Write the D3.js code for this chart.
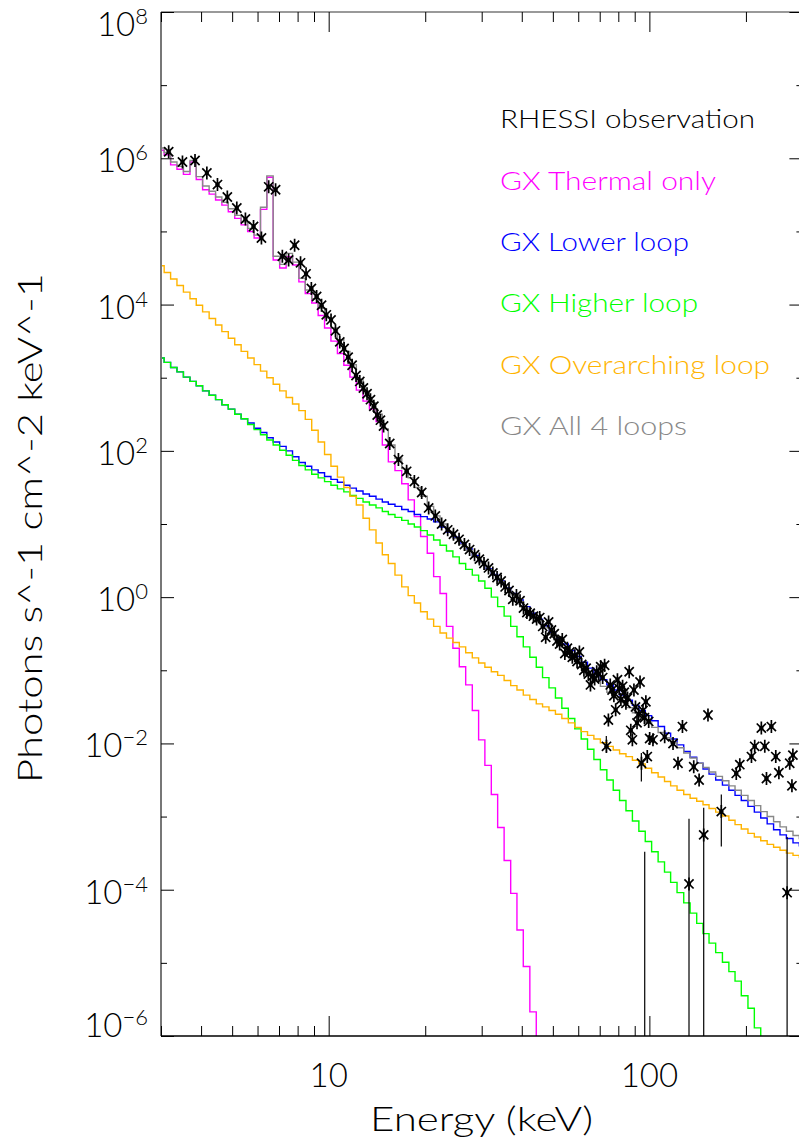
<!DOCTYPE html>
<html>
<head>
<meta charset="utf-8">
<script src="https://cdn.jsdelivr.net/npm/d3@7"></script>
<style>
  body { margin: 0; background: #fff; }
  text { font-family: "Lato", "DejaVu Sans", sans-serif; font-weight: 300; }
</style>
</head>
<body>
<svg id="chart" width="799" height="1145"></svg>
<script>
// Model energy grid (keV), logarithmic bins shared by all GX spectra
const energy = [3.00,3.14,3.29,3.44,3.61,3.78,3.95,4.14,4.34,4.54,
  4.75,4.98,5.21,5.46,5.72,5.99,6.27,6.56,6.87,7.20,
  7.54,7.89,8.26,8.65,9.06,9.49,9.93,10.4,10.9,11.4,
  11.9,12.5,13.1,13.7,14.4,15.0,15.7,16.5,17.3,18.1,
  18.9,19.8,20.8,21.7,22.8,23.8,25.0,26.1,27.4,28.7,
  30.0,31.4,32.9,34.4,36.1,37.8,39.5,41.4,43.4,45.4,
  47.5,49.8,52.1,54.6,57.2,59.9,62.7,65.6,68.7,72.0,
  75.4,78.9,82.6,86.5,90.6,94.9,99.3,104,109,114,
  119,125,131,137,144,150,157,165,173,181,
  189,198,208,217,228,238,250,261,274,287,
  300];

// GX simulator photon spectra (photons s^-1 cm^-2 keV^-1)
const thermalOnly = [1.29e6,1.12e6,8.13e5,7.08e5,6.03e5,8.91e5,5.13e5,3.72e5,3.24e5,2.69e5,
  2.29e5,1.86e5,1.51e5,1.23e5,1.00e5,8.13e4,2.00e5,5.50e5,4.07e4,3.16e4,
  4.50e4,3.47e4,2.04e4,1.41e4,1.05e4,7.08e3,4.79e3,3.16e3,2.14e3,1.48e3,
  1.02e3,676,479,372,251,120,70.8,53.7,35.5,21.4,
  12.6,6.76,3.98,1.91,1.12,0.398,0.200,0.112,0.0631,0.0282,
  0.0112,5.01e-3,2.00e-3,7.08e-4,2.51e-4,8.91e-5,2.82e-5,8.91e-6,2.14e-6,1.0e-7];

const lowerLoop = [1.86e3,1.62e3,1.38e3,1.20e3,1.02e3,891,776,661,575,501,
  427,372,316,275,240,204,178,151,132,115,
  100,83.2,69.2,61.7,55.0,50.1,44.7,40.7,37.2,33.9,
  30.9,28.2,25.7,24.0,21.9,20.0,18.6,17.4,15.8,14.8,
  13.5,12.6,11.7,10.7,9.12,7.76,6.61,5.50,4.57,3.72,
  3.02,2.45,2.04,1.66,1.35,1.12,0.912,0.741,0.603,0.501,
  0.407,0.331,0.275,0.229,0.186,0.155,0.129,0.107,0.0891,0.0741,
  0.0631,0.0537,0.0457,0.0389,0.0331,0.0282,0.0240,0.0204,0.0170,0.0138,
  0.0115,9.55e-3,7.76e-3,6.46e-3,5.37e-3,4.47e-3,3.80e-3,3.16e-3,2.69e-3,2.29e-3,
  1.95e-3,1.66e-3,1.38e-3,1.15e-3,9.55e-4,7.94e-4,6.61e-4,5.62e-4,5.01e-4,4.37e-4,
  3.98e-4];

const higherLoop = [1.86e3,1.62e3,1.38e3,1.20e3,1.02e3,891,776,661,575,501,
  427,372,316,275,229,195,166,141,120,102,
  87.1,74.1,63.1,55.0,47.9,42.7,38.0,33.9,30.2,27.5,
  24.5,22.4,20.0,18.2,16.6,14.8,13.5,12.3,11.2,10.0,
  9.12,8.13,7.08,6.03,5.13,4.27,3.55,2.88,2.40,2.00,
  1.66,1.32,1.00,0.741,0.550,0.398,0.288,0.209,0.151,0.110,
  0.0794,0.0575,0.0417,0.0302,0.0219,0.0158,0.0115,8.32e-3,6.03e-3,4.37e-3,
  3.16e-3,2.29e-3,1.66e-3,1.20e-3,8.71e-4,6.31e-4,4.57e-4,3.31e-4,2.40e-4,1.74e-4,
  1.26e-4,9.12e-5,6.61e-5,4.79e-5,3.47e-5,2.51e-5,1.86e-5,1.38e-5,1.02e-5,7.59e-6,
  5.62e-6,3.55e-6,2.40e-6,1.29e-6,7.0e-7];

const overarchingLoop = [3.39e4,2.75e4,2.24e4,1.82e4,1.48e4,1.20e4,9.77e3,7.94e3,6.46e3,5.25e3,
  4.27e3,3.47e3,2.82e3,2.29e3,1.86e3,1.51e3,1.23e3,1.00e3,813,661,
  537,437,355,269,191,132,89.1,61.7,43.7,31.6,
  24.0,18.2,12.0,8.32,5.50,3.80,2.88,2.00,1.38,1.05,
  0.832,0.631,0.501,0.398,0.324,0.275,0.240,0.209,0.174,0.148,
  0.126,0.110,0.0955,0.0851,0.0724,0.0617,0.0537,0.0457,0.0398,0.0347,
  0.0316,0.0282,0.0251,0.0219,0.0191,0.0166,0.0145,0.0129,0.0115,0.0102,
  9.12e-3,8.13e-3,7.24e-3,6.61e-3,5.89e-3,5.25e-3,4.57e-3,3.98e-3,3.47e-3,3.02e-3,
  2.63e-3,2.29e-3,2.00e-3,1.78e-3,1.62e-3,1.45e-3,1.29e-3,1.15e-3,1.02e-3,8.91e-4,
  7.76e-4,6.76e-4,5.89e-4,5.25e-4,4.68e-4,4.17e-4,3.80e-4,3.47e-4,3.16e-4,2.95e-4,
  2.75e-4];

const allLoops = [1.38e6,1.20e6,8.91e5,7.76e5,6.61e5,9.33e5,5.62e5,4.17e5,3.55e5,2.95e5,
  2.51e5,2.04e5,1.66e5,1.35e5,1.10e5,8.91e4,2.14e5,5.75e5,4.57e4,3.55e4,
  5.01e4,3.80e4,2.29e4,1.58e4,1.20e4,8.91e3,6.61e3,4.79e3,3.31e3,2.29e3,
  1.51e3,955,661,457,316,200,120,79.4,57.5,42.7,
  31.6,24.0,17.4,12.9,10.0,7.94,6.31,5.25,4.37,3.55,
  2.95,2.40,2.00,1.62,1.32,1.07,0.871,0.708,0.575,0.468,
  0.380,0.309,0.251,0.204,0.166,0.135,0.110,0.0891,0.0724,0.0603,
  0.0501,0.0427,0.0363,0.0309,0.0263,0.0229,0.0195,0.0166,0.0141,0.0120,
  0.0102,8.71e-3,7.41e-3,6.31e-3,5.37e-3,4.68e-3,4.07e-3,3.55e-3,3.09e-3,2.63e-3,
  2.29e-3,1.95e-3,1.66e-3,1.41e-3,1.17e-3,1.00e-3,8.51e-4,7.24e-4,6.31e-4,5.50e-4,
  5.01e-4];

// RHESSI observed photon spectrum
const obsEnergy = [3.17,3.50,3.83,4.17,4.50,4.83,5.17,5.50,5.83,6.17,
  6.50,6.83,7.17,7.50,7.83,8.17,8.50,8.83,9.17,9.50,
  9.83,10.17,10.50,10.83,11.17,11.50,11.83,12.17,12.50,12.83,
  13.17,13.50,13.83,14.17,14.50,14.83,
  15.5,16.5,17.5,18.5,19.5,20.5,21.5,22.5,23.5,24.5,
  25.5,26.5,27.5,28.5,29.5,30.5,31.5,32.5,33.5,34.5,
  35.5,36.5,37.5,38.5,39.5,40.5,41.5,42.5,43.5,44.5,
  45.5,46.5,47.5,48.5,49.5,50.5,51.5,52.5,53.5,54.5,
  55.5,56.5,57.5,58.5,59.5,60.5,61.5,62.5,63.5,64.5,
  65.5,66.5,67.5,68.5,69.5,70.5,71.5,72.5,73.5,74.5,
  75.5,76.5,77.5,78.5,79.5,80.5,81.5,82.5,83.5,84.5,
  85.5,86.5,87.5,88.5,89.5,90.5,91.5,92.5,93.5,94.5,
  95.5,96.5,97.5,98.5,99.5,
  100.2,102.6,111.6,118.5,122.8,126.8,132.9,137.5,142.9,147.7,
  152.3,167.6,186.6,191.4,208.1,213.0,223.4,229.0,231.8,240.1,
  247.8,253.4,268.8,273.9,278.3,280.2];
const obsFlux = [1.23e6,8.91e5,9.33e5,6.31e5,4.37e5,2.95e5,2.09e5,1.48e5,1.17e5,8.13e4,
  4.07e5,3.72e5,4.57e4,4.07e4,6.46e4,3.72e4,2.63e4,1.66e4,1.29e4,9.77e3,
  7.24e3,6.17e3,4.37e3,3.09e3,2.51e3,1.91e3,1.48e3,1.07e3,891,724,
  603,501,407,309,263,219,
  126,75.9,52.5,38.0,26.9,16.6,12.9,10.0,8.32,7.24,
  6.17,5.25,4.47,3.80,3.31,2.88,2.51,2.14,1.86,1.66,
  1.38,1.23,0.933,1.05,0.891,0.708,0.617,0.603,0.550,0.501,
  0.525,0.398,0.282,0.457,0.355,0.316,0.251,0.229,0.263,0.170,
  0.200,0.178,0.151,0.158,0.132,0.178,0.120,0.100,0.107,0.0891,
  0.0631,0.0832,0.0759,0.0955,0.0891,0.112,0.0794,0.117,9.12e-3,0.0209,
  0.0631,0.0537,0.0447,0.0288,0.0741,0.0562,0.0398,0.0603,0.0501,0.0355,
  0.0417,0.0955,0.0151,0.0112,0.0537,0.0316,0.0191,0.0251,0.0692,5.37e-3,
  0.0282,0.0224,0.0372,6.61e-3,0.0200,
  0.0117,0.0112,0.0123,0.0100,5.37e-3,0.0170,1.20e-4,4.79e-3,3.16e-3,5.62e-4,
  0.0245,1.17e-3,3.89e-3,5.13e-3,6.61e-3,9.12e-3,0.0162,9.12e-3,3.31e-3,0.0170,
  6.61e-3,3.98e-3,9.12e-5,5.37e-3,2.63e-3,6.92e-3];

// Error bars shown on the observation (lower ends below the axis run to the frame)
const errEnergy = [73.4, 94.4, 96.7, 132.9, 147.7, 167.6, 268.8];
const errLow    = [7.41e-3, 3.02e-3, 1e-7, 1e-7, 1e-7, 3.89e-4, 1e-7];
const errHigh   = [1.26e-2, 7.41e-3, 3.31e-4, 9.33e-4, 1.32e-3, 2.00e-3, 5.25e-4];

// Axis ticks
const xMajorTicks = [10, 100];
const xMinorTicks = [3,4,5,6,7,8,9,20,30,40,50,60,70,80,90,200,300];
const yMajorExponents = [8,6,4,2,0,-2,-4,-6];
const yMinorExponents = [7,5,3,1,-1,-3,-5];

// Legend
const legendLabels = ["RHESSI observation","GX Thermal only","GX Lower loop","GX Higher loop","GX Overarching loop","GX All 4 loops"];
const legendColors = ["#000000","#ff00ff","#0000ff","#00ff00","#ffb400","#888888"];
const legendWidths = [255, 216, 189, 198, 270, 187];

const W = 799, H = 1145;
const frame = { left: 161, right: 802.4, top: 12, bottom: 1036 };

const svg = d3.select("#chart");
svg.append("rect").attr("width", W).attr("height", H).attr("fill", "#fff");

const x = d3.scaleLog().domain([3, 300]).range([frame.left, frame.right]);
const y = d3.scaleLog().domain([1e-6, 1e8]).range([frame.bottom, frame.top]);

svg.append("defs").append("clipPath").attr("id", "plotClip")
  .append("rect")
  .attr("x", frame.left).attr("y", frame.top)
  .attr("width", frame.right - frame.left).attr("height", frame.bottom - frame.top);

const plot = svg.append("g").attr("clip-path", "url(#plotClip)");

// Histogram-style model spectra
const stepPath = d3.line()
  .x((d, i) => x(energy[i]))
  .y(d => y(d))
  .curve(d3.curveStep);

const models = [
  { values: thermalOnly, color: legendColors[1] },
  { values: lowerLoop, color: legendColors[2] },
  { values: higherLoop, color: legendColors[3] },
  { values: overarchingLoop, color: legendColors[4] },
  { values: allLoops, color: legendColors[5] }
];
plot.selectAll("path.model").data(models).join("path")
  .attr("class", "model")
  .attr("d", d => stepPath(d.values))
  .attr("fill", "none")
  .attr("stroke", d => d.color)
  .attr("stroke-width", 1.4);

// Error bars
plot.selectAll("line.err").data(errEnergy).join("line")
  .attr("class", "err")
  .attr("x1", d => x(d)).attr("x2", d => x(d))
  .attr("y1", (d, i) => y(errLow[i])).attr("y2", (d, i) => y(errHigh[i]))
  .attr("stroke", "#000").attr("stroke-width", 1.2);

// Asterisk markers for the observed points
const starR = 6.5;
function asterisk(cx, cy) {
  const a = starR * Math.cos(Math.PI / 4), b = starR * Math.sin(Math.PI / 4);
  return `M${cx},${cy - starR}L${cx},${cy + starR}` +
         `M${cx - a},${cy - b}L${cx + a},${cy + b}` +
         `M${cx - a},${cy + b}L${cx + a},${cy - b}`;
}
const obsLayer = plot.append("g");
obsLayer.selectAll("path.obs").data(obsEnergy).join("path")
  .attr("class", "obs")
  .attr("d", (d, i) => asterisk(x(d), y(obsFlux[i])))
  .attr("fill", "none")
  .attr("stroke", "#000")
  .attr("stroke-width", 1.7);
obsLayer.selectAll("circle.obs").data(obsEnergy).join("circle")
  .attr("class", "obs")
  .attr("cx", d => x(d))
  .attr("cy", (d, i) => y(obsFlux[i]))
  .attr("r", 2.2)
  .attr("fill", "#000");

// Frame
const axes = svg.append("g");
axes.append("line").attr("x1", frame.left).attr("x2", frame.right)
  .attr("y1", frame.bottom).attr("y2", frame.bottom)
  .attr("stroke", "#000").attr("stroke-width", 1.4);
axes.append("line").attr("x1", frame.left).attr("x2", frame.right)
  .attr("y1", frame.top).attr("y2", frame.top)
  .attr("stroke", "#777").attr("stroke-width", 1.6);
axes.append("line").attr("x1", frame.left).attr("x2", frame.left)
  .attr("y1", frame.top).attr("y2", frame.bottom)
  .attr("stroke", "#777").attr("stroke-width", 2);
axes.append("line").attr("x1", frame.right).attr("x2", frame.right)
  .attr("y1", frame.top).attr("y2", frame.bottom)
  .attr("stroke", "#777").attr("stroke-width", 2);

function tickGroup(axis, tx, ty) {
  const g = axes.append("g").attr("transform", `translate(${tx},${ty})`).call(axis);
  g.select(".domain").remove();
  g.selectAll("text").remove();
  g.selectAll("line").attr("stroke", "#000").attr("stroke-width", 1);
}
tickGroup(d3.axisBottom(x).tickValues(xMinorTicks).tickSizeInner(-10).tickSizeOuter(0), 0, frame.bottom);
tickGroup(d3.axisBottom(x).tickValues(xMajorTicks).tickSizeInner(-20).tickSizeOuter(0), 0, frame.bottom);
tickGroup(d3.axisTop(x).tickValues(xMinorTicks).tickSizeInner(-10).tickSizeOuter(0), 0, frame.top);
tickGroup(d3.axisTop(x).tickValues(xMajorTicks).tickSizeInner(-20).tickSizeOuter(0), 0, frame.top);

const yMajor = yMajorExponents.map(e => Math.pow(10, e));
const yMinor = yMinorExponents.map(e => Math.pow(10, e));
tickGroup(d3.axisLeft(y).tickValues(yMajor).tickSizeInner(-13).tickSizeOuter(0), frame.left, 0);
tickGroup(d3.axisLeft(y).tickValues(yMinor).tickSizeInner(-6).tickSizeOuter(0), frame.left, 0);
tickGroup(d3.axisRight(y).tickValues(yMajor).tickSizeInner(-13).tickSizeOuter(0), frame.right, 0);
tickGroup(d3.axisRight(y).tickValues(yMinor).tickSizeInner(-6).tickSizeOuter(0), frame.right, 0);

// Y tick labels: 10 with superscript exponent
const minus = "\u2212";
yMajorExponents.forEach(e => {
  const base = Math.min(Math.max(y(Math.pow(10, e)) + 14, frame.top + 24), frame.bottom + 1);
  const t = svg.append("text")
    .attr("x", 148).attr("y", base)
    .attr("text-anchor", "end")
    .attr("font-size", 33)
    .attr("fill", "#000");
  t.append("tspan").text("10");
  t.append("tspan").attr("dy", -12).attr("font-size", 22)
    .text(e < 0 ? minus + Math.abs(e) : String(e));
});

// X tick labels
svg.selectAll("text.xlab").data(xMajorTicks).join("text")
  .attr("class", "xlab")
  .attr("x", d => x(d)).attr("y", 1087)
  .attr("text-anchor", "middle")
  .attr("font-size", 33)
  .attr("fill", "#000")
  .text(d => d);

// Axis titles
svg.append("text")
  .attr("x", 481.5).attr("y", 1131)
  .attr("text-anchor", "middle")
  .attr("font-size", 33)
  .attr("textLength", 223).attr("lengthAdjust", "spacingAndGlyphs")
  .attr("fill", "#000")
  .text("Energy (keV)");

svg.append("text")
  .attr("transform", "translate(41.5,528) rotate(-90)")
  .attr("text-anchor", "middle")
  .attr("font-size", 33)
  .attr("textLength", 510).attr("lengthAdjust", "spacingAndGlyphs")
  .attr("fill", "#000")
  .text("Photons s^-1 cm^-2 keV^-1");

// Legend
svg.selectAll("text.legend").data(legendLabels).join("text")
  .attr("class", "legend")
  .attr("x", 500)
  .attr("y", (d, i) => 128.3 + i * 61.3)
  .attr("font-size", 26)
  .attr("textLength", (d, i) => legendWidths[i])
  .attr("lengthAdjust", "spacingAndGlyphs")
  .attr("fill", (d, i) => legendColors[i])
  .text(d => d);
</script>
</body>
</html>
